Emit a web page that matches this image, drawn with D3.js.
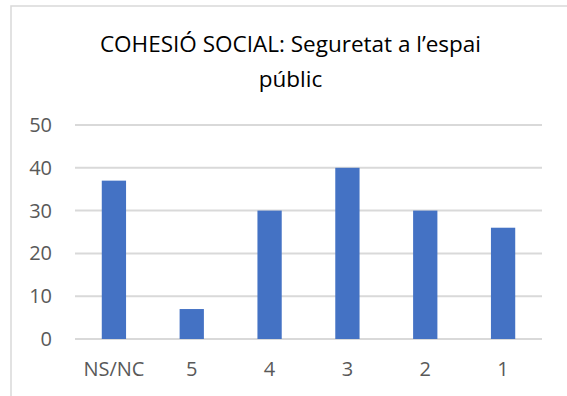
<!DOCTYPE html>
<html>
<head>
<meta charset="utf-8">
<script src="https://cdn.jsdelivr.net/npm/d3@7"></script>
<style>
  html, body { margin: 0; padding: 0; background: #fff; }
  svg { display: block; }
</style>
</head>
<body>
<svg id="chart" width="567" height="396"></svg>
<script>
// Survey answers: perceived safety in public space
const categories = ["NS/NC", "5", "4", "3", "2", "1"];
const values = [37, 7, 30, 40, 30, 26];
const yTicks = [0, 10, 20, 30, 40, 50];
const titleLines = ["COHESIÓ SOCIAL: Seguretat a l\u2019espai", "públic"];

const svg = d3.select("#chart");
const font = "'Open Sans', sans-serif";

// chart area frame (runs past the right and bottom edges)
svg.append("rect")
  .attr("x", 11).attr("y", 6)
  .attr("width", 600).attr("height", 420)
  .attr("fill", "#fff")
  .attr("stroke", "#d9d9d9")
  .attr("stroke-width", 1.5);

const plot = { left: 75, right: 542, top: 125, bottom: 339 };

const x = d3.scaleBand()
  .domain(categories)
  .range([plot.left, plot.right])
  .paddingInner(0.688)
  .paddingOuter(0.344);

const y = d3.scaleLinear()
  .domain([0, 50])
  .range([plot.bottom, plot.top]);

// horizontal gridlines
svg.append("g")
  .selectAll("line")
  .data(yTicks)
  .join("line")
  .attr("x1", plot.left).attr("x2", plot.right)
  .attr("y1", d => y(d)).attr("y2", d => y(d))
  .attr("stroke", "#d9d9d9")
  .attr("stroke-width", 2);

// bars
svg.append("g")
  .selectAll("rect")
  .data(categories)
  .join("rect")
  .attr("x", d => x(d))
  .attr("width", x.bandwidth())
  .attr("y", (d, i) => y(values[i]))
  .attr("height", (d, i) => y(0) - y(values[i]))
  .attr("fill", "#4472c4");

// y axis labels
const yAxis = svg.append("g")
  .attr("transform", `translate(${plot.left - 23},0)`)
  .call(d3.axisLeft(y).tickValues(yTicks).tickSize(0).tickPadding(0));
yAxis.select(".domain").remove();
yAxis.selectAll("text")
  .attr("font-family", font)
  .attr("font-size", 20)
  .attr("fill", "#595959");

// x axis labels
const xAxis = svg.append("g")
  .attr("transform", `translate(0,${plot.bottom})`)
  .call(d3.axisBottom(x).tickSize(0).tickPadding(23));
xAxis.select(".domain").remove();
xAxis.selectAll("text")
  .attr("font-family", font)
  .attr("font-size", 20)
  .attr("fill", "#595959");

// title
svg.append("text")
  .attr("x", 290.5)
  .attr("text-anchor", "middle")
  .attr("font-family", font)
  .attr("font-size", 22.5)
  .attr("fill", "#000")
  .selectAll("tspan")
  .data(titleLines)
  .join("tspan")
  .attr("x", 290.5)
  .attr("y", (d, i) => 52 + i * 34.5)
  .text(d => d);
</script>
</body>
</html>
